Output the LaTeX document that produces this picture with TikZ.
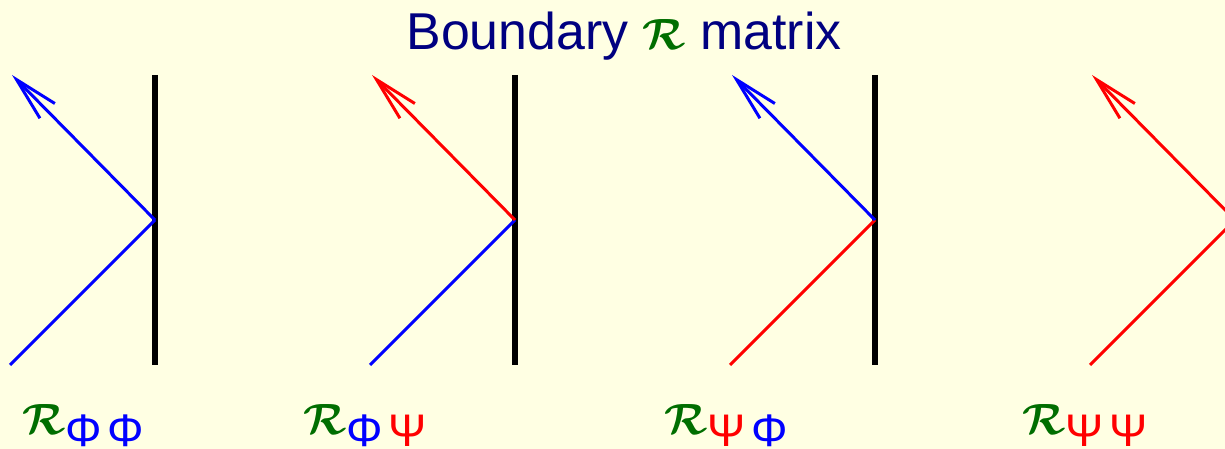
\documentclass[tikz,border=0pt]{standalone}
\usepackage{fontspec}
\setmainfont{Liberation Sans}
\usetikzlibrary{arrows.meta}

\definecolor{bgyellow}{RGB}{255,255,227}
\definecolor{titleblue}{RGB}{0,0,128}
\definecolor{rgreen}{RGB}{0,110,0}
\definecolor{phiblue}{RGB}{0,0,255}
\definecolor{psired}{RGB}{255,0,0}

% calligraphic R and Greek subscripts
\newcommand{\calR}{{\fontsize{36}{36}\selectfont\color{rgreen}\boldmath$\mathcal{R}$}}
\newcommand{\Ph}{{\color{phiblue}Φ}}
\newcommand{\Ps}{{\color{psired}Ψ}}
\newcommand{\Rsub}[2]{\calR\raisebox{-6.5pt}{\fontsize{26}{26}\selectfont #1\hspace{3pt}#2}}

\begin{document}
\begin{tikzpicture}[x=0.02cm, y=-0.02cm,
    wall/.style={line width=3.4pt, black},
    ray/.style={line width=1.7pt},
    lbl/.style={anchor=base west, inner sep=0pt},
]
    % background
    \fill[bgyellow] (0,0) rectangle (1225,449);
    \useasboundingbox (0,0) rectangle (1225,449);
    \clip (0,0) rectangle (1225,449);

    % title
    \node[anchor=base, inner sep=0pt, text=titleblue, font=\fontsize{29.5}{30}\selectfont] (title) at (624,50) {Boundary \calR{} matrix};

    % reflections at the boundary
    \foreach \i/\cin/\cout in {0/phiblue/phiblue, 1/phiblue/psired, 2/psired/phiblue, 3/psired/psired} {
        \coordinate (top\i) at (155+360*\i,75);
        \coordinate (bot\i) at (155+360*\i,365);
        \coordinate (hit\i) at (155+360*\i,220);
        \coordinate (src\i) at (10+360*\i,365);
        \coordinate (tip\i) at (12+360*\i,75);
        \draw[wall] (top\i) -- (bot\i);
        \draw[ray, \cin] (src\i) -- (hit\i);
        \draw[ray, \cout, -{Straight Barb[length=0.88cm, width=0.42cm]}] (hit\i) -- (tip\i);
    }

    % labels
    \node[lbl] (rpp) at (22,435) {\Rsub{\Ph}{\Ph}};
    \node[lbl] (rps) at (303,435) {\Rsub{\Ph}{\Ps}};
    \node[lbl] (rsp) at (664,435) {\Rsub{\Ps}{\Ph}};
    \node[lbl] (rss) at (1022,435) {\Rsub{\Ps}{\Ps}};
\end{tikzpicture}
\end{document}
